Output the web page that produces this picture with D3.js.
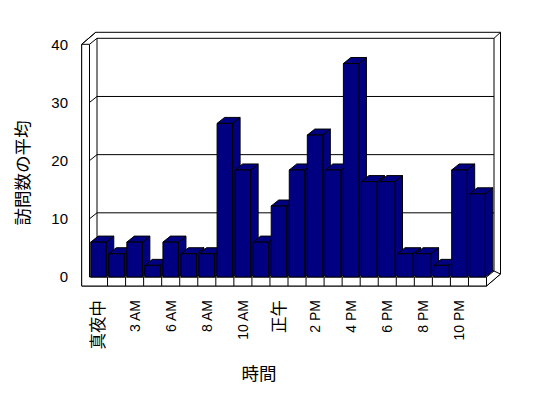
<!DOCTYPE html>
<html>
<head>
<meta charset="utf-8">
<script src="https://cdn.jsdelivr.net/npm/d3@7"></script>
<style>
  body { margin: 0; background: #fff; }
  text { font-family: "Liberation Sans", "Noto Sans CJK JP", sans-serif; fill: #000; }
</style>
</head>
<body>
<div id="chart"></div>
<script>
const width = 548;
const height = 398;

// hours of the day (2 AM and 5 AM have no data)
const hours = ["真夜中", "1 AM", "3 AM", "4 AM", "6 AM", "7 AM", "8 AM", "9 AM", "10 AM", "11 AM",
  "正午", "1 PM", "2 PM", "3 PM", "4 PM", "5 PM", "6 PM", "7 PM", "8 PM", "9 PM", "10 PM", "11 PM"];
// average number of visits
const visits = [6, 4, 6, 2, 6, 4, 4, 26.4, 18.4, 6, 12.2, 18.4, 24.4, 18.4, 36.7, 16.4, 16.4, 4, 4, 2, 18.4, 14.3];
const yTicks = [0, 10, 20, 30, 40];

const data = hours.map((h, i) => ({ hour: h, value: visits[i] }));

// depth offset of the 3D box (front plane -> back wall surface) and wall thickness
const DX = 7.5, DY = -6;
const WX = 6.5, WY = -6;
const wallLeft = 81.7;
const floorBottom = 286;

const svg = d3.select("#chart").append("svg")
  .attr("width", width)
  .attr("height", height);

const x = d3.scaleBand()
  .domain(hours)
  .range([89.5, 486.5])
  .paddingInner(0.14)
  .paddingOuter(0.07);

const y = d3.scaleLinear()
  .domain([0, 40])
  .range([277, 44.3]);

const x0 = x.range()[0], x1 = x.range()[1];
const yTop = y(40), yBase = y(0);

const line = (pts) => "M" + pts.map((p) => p.join(",")).join("L");
const frame = svg.append("g").attr("fill", "none").attr("stroke", "#000").attr("stroke-width", 1);

// back wall (outer edge and inner surface)
frame.append("path").attr("fill", "#fff")
  .attr("d", line([[wallLeft + DX + WX, yTop + DY + WY], [x1 + DX + WX, yTop + DY + WY],
    [x1 + DX + WX, floorBottom + DY + WY], [x1, floorBottom], [wallLeft, floorBottom],
    [wallLeft, yTop]]) + "Z");
frame.append("path")
  .attr("d", line([[x0 + DX, yBase + DY], [x0 + DX, yTop + DY], [x1 + DX, yTop + DY],
    [x1 + DX, yBase + DY], [x0 + DX, yBase + DY]]));
// top diagonals
frame.append("path").attr("d", line([[wallLeft, yTop], [wallLeft + DX + WX, yTop + DY + WY]]));
frame.append("path").attr("d", line([[x0, yTop], [x0 + DX, yTop + DY]]));
frame.append("path").attr("d", line([[x1 + DX, yTop + DY], [x1 + DX + WX, yTop + DY + WY]]));

// gridlines on back wall and ticks on left wall
yTicks.filter((v) => v > 0 && v < 40).forEach((v) => {
  frame.append("path").attr("d", line([[x0 + DX, y(v) + DY], [x1 + DX, y(v) + DY]]));
  frame.append("path").attr("d", line([[wallLeft, y(v)], [x0, y(v)], [x0 + DX, y(v) + DY]]));
});

// left wall front face
frame.append("path").attr("fill", "#fff")
  .attr("d", line([[wallLeft, yTop], [x0, yTop], [x0, yBase], [x1, yBase], [x1, floorBottom],
    [wallLeft, floorBottom]]) + "Z");

// floor right side and dividers
frame.append("path").attr("fill", "#fff")
  .attr("d", line([[x1, yBase], [x1 + DX, yBase + DY], [x1 + DX + WX, floorBottom + DY + WY],
    [x1, floorBottom]]) + "Z");
hours.slice(1).forEach((h) => {
  const xx = x(h) - x.step() * x.paddingInner() / 2;
  frame.append("path").attr("d", line([[xx, yBase], [xx, floorBottom]]));
});

// bars
const bars = svg.append("g")
  .selectAll("g")
  .data(data)
  .enter()
  .append("g")
  .attr("fill", "#000080")
  .attr("stroke", "#000")
  .attr("stroke-linejoin", "round");

bars.append("path")
  .attr("d", (d) => {
    const l = x(d.hour), r = l + x.bandwidth(), t = y(d.value);
    return line([[r, t], [r + DX, t + DY], [r + DX, yBase + DY], [r, yBase]]) + "Z";
  });
bars.append("path")
  .attr("d", (d) => {
    const l = x(d.hour), r = l + x.bandwidth(), t = y(d.value);
    return line([[l, t], [l + DX, t + DY], [r + DX, t + DY], [r, t]]) + "Z";
  });
bars.append("rect")
  .attr("x", (d) => x(d.hour))
  .attr("y", (d) => y(d.value))
  .attr("width", x.bandwidth())
  .attr("height", (d) => yBase - y(d.value));

// y tick labels
svg.append("g")
  .selectAll("text")
  .data(yTicks)
  .enter()
  .append("text")
  .attr("x", 68)
  .attr("y", (d) => y(d))
  .attr("dy", "0.35em")
  .attr("text-anchor", "end")
  .attr("font-size", "15px")
  .text((d) => d);

// x tick labels (every other hour); the kanji labels render larger, as in the original
const isKanji = (s) => /[\u3000-\u9fff]/.test(s);
svg.append("g")
  .selectAll("text")
  .data(hours.filter((h, i) => i % 2 === 0))
  .enter()
  .append("text")
  .attr("transform", (d) => `translate(${x(d) + x.bandwidth() / 2},300) rotate(-90)`)
  .attr("dy", "0.35em")
  .attr("text-anchor", "end")
  .attr("font-size", (d) => (isKanji(d) ? "16.5px" : "14px"))
  .text((d) => d);

// axis titles
svg.append("text")
  .attr("transform", "translate(23,173) rotate(-90)")
  .attr("dy", "0.35em")
  .attr("text-anchor", "middle")
  .attr("font-size", "17.5px")
  .text("訪問数の平均");

svg.append("text")
  .attr("x", 259)
  .attr("y", 374)
  .attr("dy", "0.35em")
  .attr("text-anchor", "middle")
  .attr("font-size", "17.5px")
  .text("時間");
</script>
</body>
</html>
